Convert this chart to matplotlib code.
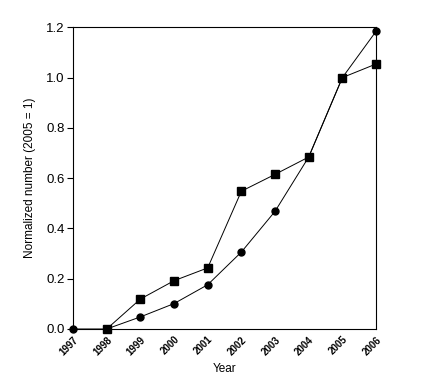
import matplotlib
matplotlib.use("Agg")
import matplotlib.pyplot as plt
import numpy as np

years = [1997, 1998, 1999, 2000, 2001, 2002, 2003, 2004, 2005, 2006]
squares = [np.nan, 0.0, 0.119, 0.192, 0.243, 0.548, 0.615, 0.684, 1.0, 1.054]
circles = [0.0, 0.0, 0.048, 0.101, 0.176, 0.306, 0.468, 0.684, 1.0, 1.184]
yticks = [0.0, 0.2, 0.4, 0.6, 0.8, 1.0, 1.2]

plt.rcParams['font.family'] = ['Liberation Sans', 'DejaVu Sans']
fig = plt.figure(figsize=(4.28, 3.75), dpi=100)
ax = fig.add_axes([0.1706, 0.1227, 0.708, 0.8045])

ax.plot(years, circles, color='black', lw=0.7, marker='o', ms=5, clip_on=False, zorder=3)
ax.plot(years, squares, color='black', lw=0.7, marker='s', ms=5.5, clip_on=False, zorder=3)

ax.set_xlim(1997, 2006)
ax.set_ylim(0, 1.2)
ax.set_yticks(yticks)
ax.set_yticklabels([f"{v:.1f}" for v in yticks], fontsize=9.5)
ax.set_xticks(years)
ax.set_xticklabels([str(y) for y in years], rotation=45, ha='right', va='top',
                   fontsize=7, fontweight='bold', rotation_mode='anchor')
ax.tick_params(axis='x', length=0, pad=4)
ax.tick_params(axis='y', length=4, width=0.8, direction='out', pad=2)
for s in ax.spines.values():
    s.set_linewidth(0.8)
ax.set_xlabel('Year', fontsize=8.5, labelpad=4)
ax.set_ylabel('Normalized number (2005 = 1)', fontsize=8.5, labelpad=7)

fig.savefig('out.png', dpi=100)
